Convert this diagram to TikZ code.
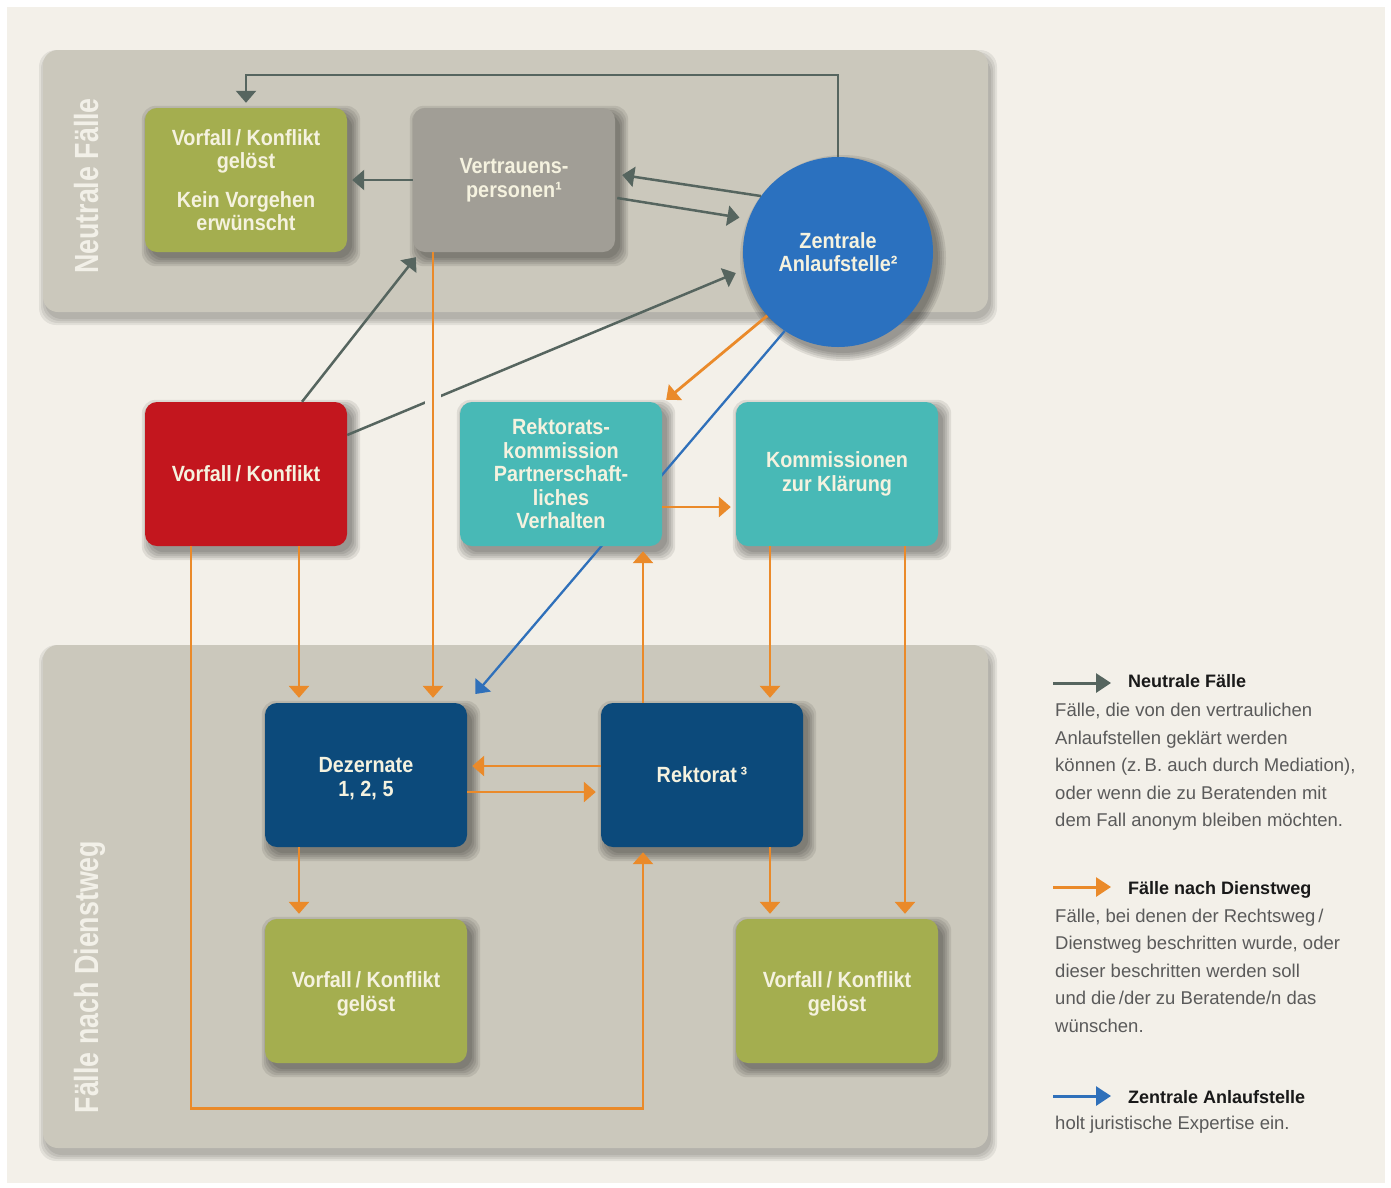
\documentclass[tikz,border=0pt]{standalone}
\usepackage{fontspec}
\setmainfont{Liberation Sans}
\newfontfamily\panelfont{Liberation Sans}[FakeStretch=0.8]
\newfontfamily\boxfont{Liberation Sans}[FakeStretch=0.9]
\usetikzlibrary{arrows.meta,calc}
\definecolor{cream}{HTML}{F3F0E9}
\definecolor{panelc}{HTML}{CBC8BC}
\definecolor{greenc}{HTML}{A4AE4F}
\definecolor{vgray}{HTML}{A19E96}
\definecolor{zblue}{HTML}{2B71BF}
\definecolor{redc}{HTML}{C3161E}
\definecolor{tealc}{HTML}{48B9B6}
\definecolor{dblue}{HTML}{0C4A7B}
\definecolor{nodetxt}{HTML}{F5F2DF}
\definecolor{garrc}{HTML}{56655F}
\definecolor{oarrc}{HTML}{EA8A2A}
\definecolor{barrc}{HTML}{2F70BA}
\definecolor{legtxt}{HTML}{5A5A5A}
\definecolor{paneltxt}{HTML}{F2F0E8}
\pgfdeclarelayer{bg}
\pgfdeclarelayer{shadow}
\pgfdeclarelayer{under}
\pgfdeclarelayer{over}
\pgfsetlayers{bg,shadow,under,main,over}
\begin{document}
\begin{tikzpicture}[x=1pt,y=-1pt,
  box/.style={rectangle, rounded corners=12pt, minimum width=202pt, minimum height=144pt,
    inner sep=0pt, align=center, text=nodetxt, font=\boxfont\fontsize{22}{23.5}\selectfont\bfseries},
  conn/.style={line width=2.8pt, shorten >=5pt, -{Triangle[length=12pt,width=20pt]}},
  garr/.style={conn, line width=2.5pt, draw=garrc},
  oarr/.style={conn, draw=oarrc},
  barr/.style={conn, line width=2.3pt, draw=barrc},
  legarr/.style={line width=3pt, -{Triangle[length=15pt,width=19pt]}},
  leghead/.style={font=\fontsize{18}{22}\selectfont\bfseries, text=black!90, inner sep=0pt, anchor=base west},
  legbody/.style={font=\fontsize{18.5}{27.5}\selectfont, text=legtxt, inner sep=0pt, align=left, anchor=north west},
  panellabel/.style={font=\panelfont\fontsize{33.5}{36}\selectfont\bfseries, text=paneltxt, inner sep=0pt, anchor=base, rotate=90},
  panel/.style={fill=panelc, rounded corners=15pt},
  shade/.style={fill=black, opacity=0.085}
]
\useasboundingbox (0,0) rectangle (1391,1187);

\begin{pgfonlayer}{bg}
\fill[white] (0,0) rectangle (1391,1187);
\fill[cream] (7,7) rectangle (1385,1183);
\foreach \r in {0,2,4,6}{
  \fill[shade, opacity=0.07, rounded corners=17pt] (43+2-\r,50+6-\r) rectangle (988+3+\r,312+7+\r);
  \fill[shade, opacity=0.07, rounded corners=17pt] (43+2-\r,645+6-\r) rectangle (988+3+\r,1148+7+\r);
}
\path[panel] (43,50) rectangle (988,312);
\path[panel] (43,645) rectangle (988,1148);
\end{pgfonlayer}

\node[panellabel] (lab1) at (98,186) {Neutrale Fälle};
\node[panellabel] (lab2) at (98,977) {Fälle nach Dienstweg};

% nodes
\node[box, fill=greenc] (gtop) at (246,180) {Vorfall\,/ Konflikt\\gelöst\\[15pt]Kein Vorgehen\\erwünscht};
\node[box, fill=vgray] (vp) at (514,180) {Vertrauens-\\personen¹};
\node[circle, fill=zblue, minimum size=190pt, inner sep=0pt, align=center, text=nodetxt,
  font=\boxfont\fontsize{22}{23.5}\selectfont\bfseries] (zas) at (838,252) {Zentrale\\Anlaufstelle²};
\node[box, fill=redc] (red) at (246,474) {Vorfall\,/ Konflikt};
\node[box, fill=tealc] (rk) at (561,474) {Rektorats-\\kommission\\Partnerschaft-\\liches\\Verhalten};
\node[box, fill=tealc] (kk) at (837,474) {Kommissionen\\zur Klärung};
\node[box, fill=dblue] (dez) at (366,775) {\rule{0pt}{22pt}Dezernate\\1, 2, 5};
\node[box, fill=dblue] (rek) at (702,775) {Rektorat\,³};
\node[box, fill=greenc] (gbl) at (366,991) {\rule{0pt}{22pt}Vorfall\,/ Konflikt\\gelöst};
\node[box, fill=greenc] (gbr) at (837,991) {\rule{0pt}{22pt}Vorfall\,/ Konflikt\\gelöst};

% soft shadows
\begin{pgfonlayer}{shadow}
\foreach \n in {gtop,vp,red,rk,kk,dez,rek,gbl,gbr}{
  \foreach \r in {0,2,4,6,8}{
    \fill[shade, rounded corners=14pt] ($(\n.south west)+(5-\r,6+\r)$) rectangle ($(\n.north east)+(5+\r,6-\r)$);
  }
}
\foreach \r in {0,2,4,6,8}{
  \fill[shade] ($(zas.center)+(5,6)$) circle (95+\r);
}
\end{pgfonlayer}

% blue connector behind nodes
\begin{pgfonlayer}{under}
\draw[barr] (zas.236) -- ($(dez.north east)+(5,-5)$);
\end{pgfonlayer}

\begin{pgfonlayer}{over}
% gray connectors
\draw[garr] (zas.north) -- (zas.north |- 0,75) -| (gtop.north);
\draw[garr] (vp.west) -- (gtop.east);
\draw[garr, shorten >=0pt] (zas.144) -- ($(vp.east)+(7,-5)$);
\draw[garr, shorten >=0pt] ($(vp.east)+(2,18)$) -- ($(zas.162)+(-8,-5)$);
\draw[garr, shorten >=0pt] ($(red.north)+(56,0)$) -- ($(vp.south west)+(3,5)$);
\draw[garr, shorten >=0pt] ($(red.east)+(0,-39)$) -- ($(zas.west)+(-7,21)$);
\fill[cream] (425,391) rectangle (441,408);
% orange connectors
\draw[oarr] ($(vp.south)+(-81,0)$) -- ($(dez.north)+(67,0)$);
\draw[oarr, shorten >=0pt] (zas.222) -- ($(rk.north east)+(4,-2)$);
\draw[oarr] ($(rk.east)+(0,33)$) -- ($(kk.west)+(0,33)$);
\draw[oarr] ($(red.south)+(53,0)$) -- ($(dez.north)+(-67,0)$);
\draw[oarr] ($(red.south)+(-55,0)$) -- ++(0,562) -| ($(rek.south)+(-59,0)$);
\draw[oarr] ($(rek.north)+(-59,0)$) -- ($(rk.south)+(82,0)$);
\draw[oarr] ($(kk.south)+(-67,0)$) -- ($(rek.north)+(68,0)$);
\draw[oarr] ($(kk.south)+(68,0)$) -- ($(gbr.north)+(68,0)$);
\draw[oarr] ($(rek.west)+(0,-9)$) -- ($(dez.east)+(0,-9)$);
\draw[oarr] ($(dez.east)+(0,17)$) -- ($(rek.west)+(0,17)$);
\draw[oarr] ($(dez.south)+(-67,0)$) -- ($(gbl.north)+(-67,0)$);
\draw[oarr] ($(rek.south)+(68,0)$) -- ($(gbr.north)+(-67,0)$);
\end{pgfonlayer}

% legend
\coordinate (l1a) at (1053,683); \coordinate (l1b) at (1111,683);
\coordinate (l2a) at (1053,887); \coordinate (l2b) at (1111,887);
\coordinate (l3a) at (1053,1096); \coordinate (l3b) at (1111,1096);
\draw[legarr, draw=garrc] (l1a) -- (l1b);
\draw[legarr, draw=oarrc] (l2a) -- (l2b);
\draw[legarr, draw=barrc] (l3a) -- (l3b);
\node[leghead] (h1) at (1128,687) {Neutrale Fälle};
\node[leghead] (h2) at (1128,894) {Fälle nach Dienstweg};
\node[leghead] (h3) at (1128,1103) {Zentrale Anlaufstelle};
\node[legbody] (b1) at (1055,703) {Fälle, die von den vertraulichen\\Anlaufstellen geklärt werden\\können (z.\,B. auch durch Mediation),\\oder wenn die zu Beratenden mit\\dem Fall anonym bleiben möchten.};
\node[legbody] (b2) at (1055,908.5) {Fälle, bei denen der Rechtsweg\,/\\Dienstweg beschritten wurde, oder\\dieser beschritten werden soll\\und die\,/der zu Beratende/n das\\wünschen.};
\node[legbody] (b3) at (1055,1115.5) {holt juristische Expertise ein.};
\end{tikzpicture}
\end{document}
